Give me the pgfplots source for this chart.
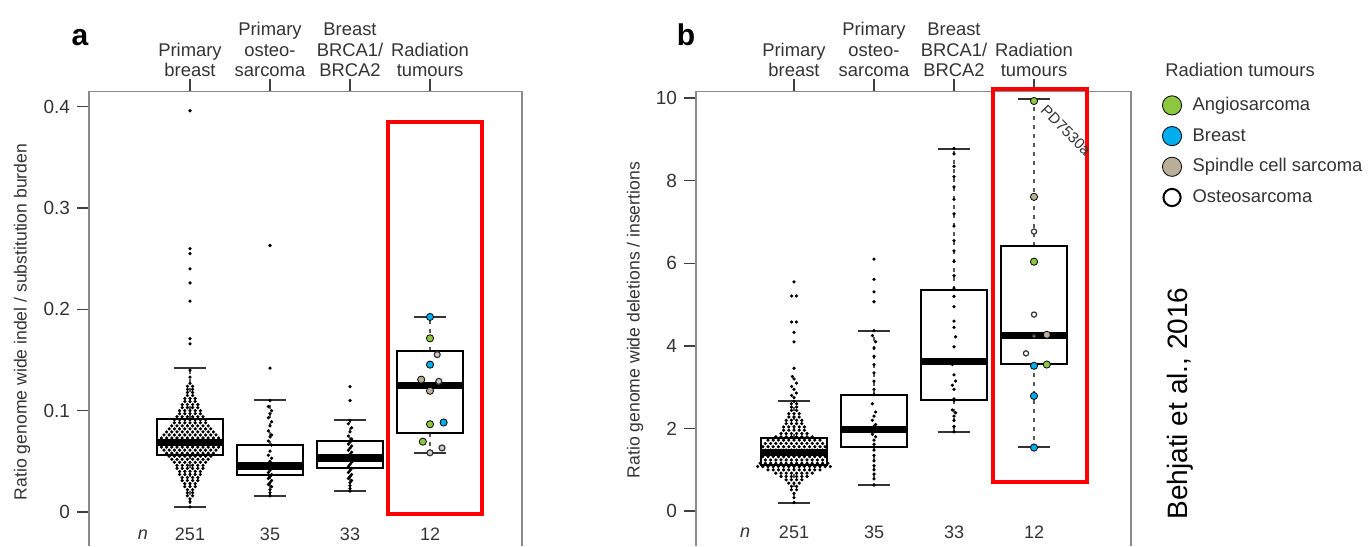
\documentclass[border=0pt]{standalone}
\usepackage{pgfplots}
\pgfplotsset{compat=1.18}
\usepgfplotslibrary{statistics}
\usepackage{fontspec}
\setmainfont{Liberation Sans}
\definecolor{angio}{HTML}{8DC63F}
\definecolor{brst}{HTML}{00AEEF}
\definecolor{spind}{HTML}{B9AE97}
\definecolor{txt}{HTML}{333333}
\definecolor{framec}{HTML}{8A8A8A}
\pgfplotsset{
  mybox/.style={
    boxplot/draw direction=y,
    boxplot/box extend=0.825,
    boxplot/whisker extend=0.41,
    boxplot/draw/box/.code={\draw[line width=1pt,black] (boxplot box cs:\pgfplotsboxplotvalue{lower quartile},0) rectangle (boxplot box cs:\pgfplotsboxplotvalue{upper quartile},1);},
    boxplot/draw/median/.code={\draw[line width=3.6pt,black] (boxplot box cs:\pgfplotsboxplotvalue{median},0) -- (boxplot box cs:\pgfplotsboxplotvalue{median},1);},
    boxplot/draw/upper whisker/.code={\draw[line width=0.6pt,dash pattern=on 2pt off 2.5pt,black!65] (boxplot cs:\pgfplotsboxplotvalue{upper quartile}) -- (boxplot cs:\pgfplotsboxplotvalue{upper whisker}); \draw[line width=1pt,black!80] (boxplot whisker cs:\pgfplotsboxplotvalue{upper whisker},0) -- (boxplot whisker cs:\pgfplotsboxplotvalue{upper whisker},1);},
    boxplot/draw/lower whisker/.code={\draw[line width=0.6pt,dash pattern=on 2pt off 2.5pt,black!65] (boxplot cs:\pgfplotsboxplotvalue{lower quartile}) -- (boxplot cs:\pgfplotsboxplotvalue{lower whisker}); \draw[line width=1pt,black!80] (boxplot whisker cs:\pgfplotsboxplotvalue{lower whisker},0) -- (boxplot whisker cs:\pgfplotsboxplotvalue{lower whisker},1);},
  },
  common/.style={
    scale only axis, clip=false, mybox,
    axis x line*=top, axis y line*=left,
    axis line style={framec, line width=0.75pt},
    tick style={black!75, line width=0.75pt},
    tick align=outside, major tick length=6pt,
    xtick={1,2,3,4},
    xticklabels={{Primary\\breast},{Primary\\osteo-\\sarcoma},{Breast\\BRCA1/\\BRCA2},{Radiation\\tumours}},
    xticklabel style={align=center, font=\fontsize{9.2}{10.45}\selectfont, text=txt, inner sep=1pt},
    yticklabel style={font=\fontsize{9.5}{11}\selectfont, text=txt},
    ylabel style={anchor=center, font=\fontsize{8.8}{10}\selectfont, text=txt},
  },
  dots/.style={only marks, mark=*, mark size=0.6pt, mark options={draw=none, fill=black}, forget plot},
  rad/.style={only marks, mark=*, mark size=1.8pt, mark options={draw=none, fill=#1}, forget plot},
  osteo/.style={only marks, mark=*, mark size=1.5pt, mark options={draw=black!80, fill=#1, line width=0.6pt}, forget plot},
}
\begin{document}
\begin{tikzpicture}
% ---------------- panel a ----------------
\begin{axis}[common, at={(44.5pt,0pt)}, anchor=south west,
  width=216.5pt, height=227.25pt,
  xmin=-0.2625, xmax=5.15, ymin=-0.0336, ymax=0.415,
  ytick={0,0.1,0.2,0.3,0.4}, yticklabels={0,0.1,0.2,0.3,0.4},
  ylabel={Ratio genome wide indel / substitution burden},
  ylabel style={at={(axis description cs:-0.1547,0.493)}},
]
\addplot[dots] coordinates {
(1,0.005)(1,0.010)(1,0.013)
(0.9675,0.016)(1.0325,0.016)
(0.9675,0.019)(1.0325,0.019)
(0.9675,0.022)(1.0325,0.022)
(0.935,0.025)(1,0.025)(1.065,0.025)
(0.935,0.028)(1,0.028)(1.065,0.028)
(0.9025,0.031)(0.9675,0.031)(1.0325,0.031)(1.0975,0.031)
(0.9025,0.034)(0.9675,0.034)(1.0325,0.034)(1.0975,0.034)
(0.87,0.037)(0.935,0.037)(1,0.037)(1.065,0.037)(1.13,0.037)
(0.87,0.040)(0.935,0.040)(1,0.040)(1.065,0.040)(1.13,0.040)
(0.8375,0.043)(0.9025,0.043)(0.9675,0.043)(1.0325,0.043)(1.0975,0.043)(1.1625,0.043)
(0.8375,0.046)(0.9025,0.046)(0.9675,0.046)(1.0325,0.046)(1.0975,0.046)(1.1625,0.046)
(0.805,0.049)(0.87,0.049)(0.935,0.049)(1,0.049)(1.065,0.049)(1.13,0.049)(1.195,0.049)
(0.7725,0.052)(0.8375,0.052)(0.9025,0.052)(0.9675,0.052)(1.0325,0.052)(1.0975,0.052)(1.1625,0.052)(1.2275,0.052)
(0.74,0.055)(0.805,0.055)(0.87,0.055)(0.935,0.055)(1,0.055)(1.065,0.055)(1.13,0.055)(1.195,0.055)(1.26,0.055)
(0.7075,0.058)(0.7725,0.058)(0.8375,0.058)(0.9025,0.058)(0.9675,0.058)(1.0325,0.058)(1.0975,0.058)(1.1625,0.058)(1.2275,0.058)(1.2925,0.058)
(0.675,0.061)(0.74,0.061)(0.805,0.061)(0.87,0.061)(0.935,0.061)(1,0.061)(1.065,0.061)(1.13,0.061)(1.195,0.061)(1.26,0.061)(1.325,0.061)
(0.6425,0.064)(0.7075,0.064)(0.7725,0.064)(0.8375,0.064)(0.9025,0.064)(0.9675,0.064)(1.0325,0.064)(1.0975,0.064)(1.1625,0.064)(1.2275,0.064)(1.2925,0.064)(1.3575,0.064)
(0.61,0.067)(0.675,0.067)(0.74,0.067)(0.805,0.067)(0.87,0.067)(0.935,0.067)(1,0.067)(1.065,0.067)(1.13,0.067)(1.195,0.067)(1.26,0.067)(1.325,0.067)(1.39,0.067)
(0.61,0.070)(0.675,0.070)(0.74,0.070)(0.805,0.070)(0.87,0.070)(0.935,0.070)(1,0.070)(1.065,0.070)(1.13,0.070)(1.195,0.070)(1.26,0.070)(1.325,0.070)(1.39,0.070)
(0.6425,0.073)(0.7075,0.073)(0.7725,0.073)(0.8375,0.073)(0.9025,0.073)(0.9675,0.073)(1.0325,0.073)(1.0975,0.073)(1.1625,0.073)(1.2275,0.073)(1.2925,0.073)(1.3575,0.073)
(0.675,0.076)(0.74,0.076)(0.805,0.076)(0.87,0.076)(0.935,0.076)(1,0.076)(1.065,0.076)(1.13,0.076)(1.195,0.076)(1.26,0.076)(1.325,0.076)
(0.7075,0.079)(0.7725,0.079)(0.8375,0.079)(0.9025,0.079)(0.9675,0.079)(1.0325,0.079)(1.0975,0.079)(1.1625,0.079)(1.2275,0.079)(1.2925,0.079)
(0.74,0.082)(0.805,0.082)(0.87,0.082)(0.935,0.082)(1,0.082)(1.065,0.082)(1.13,0.082)(1.195,0.082)(1.26,0.082)
(0.7725,0.085)(0.8375,0.085)(0.9025,0.085)(0.9675,0.085)(1.0325,0.085)(1.0975,0.085)(1.1625,0.085)(1.2275,0.085)
(0.805,0.088)(0.87,0.088)(0.935,0.088)(1,0.088)(1.065,0.088)(1.13,0.088)(1.195,0.088)
(0.805,0.091)(0.87,0.091)(0.935,0.091)(1,0.091)(1.065,0.091)(1.13,0.091)(1.195,0.091)
(0.8375,0.094)(0.9025,0.094)(0.9675,0.094)(1.0325,0.094)(1.0975,0.094)(1.1625,0.094)
(0.87,0.097)(0.935,0.097)(1,0.097)(1.065,0.097)(1.13,0.097)
(0.87,0.100)(0.935,0.100)(1,0.100)(1.065,0.100)(1.13,0.100)
(0.9025,0.103)(0.9675,0.103)(1.0325,0.103)(1.0975,0.103)
(0.9025,0.106)(0.9675,0.106)(1.0325,0.106)(1.0975,0.106)
(0.935,0.109)(1,0.109)(1.065,0.109)
(0.935,0.112)(1,0.112)(1.065,0.112)
(0.9675,0.115)(1.0325,0.115)
(0.9675,0.118)(1.0325,0.118)
(0.9675,0.121)(1.0325,0.121)
(0.9675,0.124)(1.0325,0.124)
(1,0.127)(1,0.133)(1,0.140)
(1,0.166)(1,0.171)(1,0.208)(1,0.226)(1,0.240)(1,0.255)(1,0.260)(1,0.396)
};
\addplot[dots] coordinates {
(2,0.263)(2,0.142)(2,0.110)(1.98,0.104)(2.02,0.100)(2,0.097)(1.98,0.093)(2.02,0.089)(2,0.085)
(1.98,0.080)(2.02,0.076)(2,0.074)(1.98,0.070)(2.02,0.066)(2,0.060)(1.98,0.056)(2.02,0.053)
(2,0.050)(1.98,0.048)(2.02,0.046)(2,0.045)(1.97,0.044)(2.03,0.043)(2,0.041)(1.98,0.039)
(2.02,0.037)(2,0.035)(1.98,0.033)(2.02,0.031)(2,0.029)(1.98,0.027)(2.02,0.025)(2,0.022)
(2,0.019)(2,0.016)
};
\addplot[dots] coordinates {
(3,0.1237)(3,0.110)(3,0.0904)(2.98,0.087)(3.02,0.083)(3,0.079)(2.98,0.075)(3.02,0.072)
(3,0.069)(2.98,0.067)(3.02,0.065)(3,0.063)(2.98,0.061)(3.02,0.059)(3,0.057)(2.98,0.055)
(3.02,0.054)(3,0.053)(2.98,0.051)(3.02,0.049)(3,0.047)(2.98,0.045)(3.02,0.043)(3,0.041)
(2.98,0.039)(3.02,0.037)(3,0.035)(2.98,0.033)(3.02,0.031)(3,0.029)(3,0.026)(3,0.023)(3,0.0206)
};
\addplot[forget plot, boxplot prepared={draw position=1, lower whisker=0.0045, lower quartile=0.0567, median=0.0688, upper quartile=0.0918, upper whisker=0.1416}] coordinates {};
\addplot[forget plot, boxplot prepared={draw position=2, lower whisker=0.0155, lower quartile=0.0361, median=0.0454, upper quartile=0.0663, upper whisker=0.1106}] coordinates {};
\addplot[forget plot, boxplot prepared={draw position=3, lower whisker=0.0206, lower quartile=0.0430, median=0.0533, upper quartile=0.0698, upper whisker=0.0904}] coordinates {};
\addplot[forget plot, boxplot prepared={draw position=4, lower whisker=0.0584, lower quartile=0.0780, median=0.1247, upper quartile=0.1588, upper whisker=0.1925}] coordinates {};
\addplot[rad=angio] coordinates {(4,0.1714)(4,0.0866)(3.91,0.0694)};
\addplot[rad=brst] coordinates {(4,0.1925)(4,0.1454)(4.17,0.0883)};
\addplot[rad=spind] coordinates {(3.89,0.1306)(4,0.1196)};
\addplot[osteo=black!20] coordinates {(4.09,0.1553)(4.11,0.1289)(4.15,0.0632)(4,0.0584)};
\draw[red, line width=2pt] (axis cs:3.475,-0.0023) rectangle (axis cs:4.65,0.385);
\draw[framec, line width=0.75pt] (rel axis cs:1,0) -- (rel axis cs:1,1);
\node[font=\fontsize{9}{10}\selectfont\itshape, text=txt] at (axis cs:0.4125,-0.0222) {n};
\node[font=\fontsize{9}{10}\selectfont, text=txt] at (axis cs:1,-0.0222) {251};
\node[font=\fontsize{9}{10}\selectfont, text=txt] at (axis cs:2,-0.0222) {35};
\node[font=\fontsize{9}{10}\selectfont, text=txt] at (axis cs:3,-0.0222) {33};
\node[font=\fontsize{9}{10}\selectfont, text=txt] at (axis cs:4,-0.0222) {12};
\node[anchor=base, font=\fontsize{15}{15}\selectfont\bfseries] at (axis description cs:-0.0208,1.1023) {a};
\end{axis}
% ---------------- panel b ----------------
\begin{axis}[common, at={(348pt,0pt)}, anchor=south west,
  width=217.5pt, height=227.25pt,
  xmin=-0.225, xmax=5.2125, ymin=-0.843, ymax=10.16,
  ytick={0,2,4,6,8,10}, yticklabels={0,2,4,6,8,10},
  ylabel={Ratio genome wide deletions / insertions},
  ylabel style={at={(axis description cs:-0.140,0.497)}},
  legend style={at={(axis description cs:1.0713,0.9945)}, anchor=north west, draw=none, fill=none,
    font=\fontsize{9.2}{11}\selectfont, text=txt, row sep=4.35pt, inner sep=0pt,
    nodes={inner sep=1pt, text height=7pt, text depth=2pt},
    /tikz/every odd column/.append style={column sep=4.5pt}},
  legend cell align=left,
]
\addplot[dots] coordinates {
(1,0.21)(1,0.33)(1,0.43)
(0.9675,0.52)(1.0325,0.52)
(0.9675,0.60)(1.0325,0.60)
(0.935,0.68)(1,0.68)(1.065,0.68)
(0.9025,0.76)(0.9675,0.76)(1.0325,0.76)(1.0975,0.76)
(0.8375,0.84)(0.9025,0.84)(0.9675,0.84)(1.0325,0.84)(1.0975,0.84)(1.1625,0.84)
(0.7725,0.92)(0.8375,0.92)(0.9025,0.92)(0.9675,0.92)(1.0325,0.92)(1.0975,0.92)(1.1625,0.92)(1.2275,0.92)
(0.675,1.00)(0.74,1.00)(0.805,1.00)(0.87,1.00)(0.935,1.00)(1,1.00)(1.065,1.00)(1.13,1.00)(1.195,1.00)(1.26,1.00)(1.325,1.00)
(0.545,1.08)(0.61,1.08)(0.675,1.08)(0.74,1.08)(0.805,1.08)(0.87,1.08)(0.935,1.08)(1,1.08)(1.065,1.08)(1.13,1.08)(1.195,1.08)(1.26,1.08)(1.325,1.08)(1.39,1.08)(1.455,1.08)
(0.5775,1.16)(0.6425,1.16)(0.7075,1.16)(0.7725,1.16)(0.8375,1.16)(0.9025,1.16)(0.9675,1.16)(1.0325,1.16)(1.0975,1.16)(1.1625,1.16)(1.2275,1.16)(1.2925,1.16)(1.3575,1.16)(1.4225,1.16)
(0.6425,1.24)(0.7075,1.24)(0.7725,1.24)(0.8375,1.24)(0.9025,1.24)(0.9675,1.24)(1.0325,1.24)(1.0975,1.24)(1.1625,1.24)(1.2275,1.24)(1.2925,1.24)(1.3575,1.24)
(0.61,1.32)(0.675,1.32)(0.74,1.32)(0.805,1.32)(0.87,1.32)(0.935,1.32)(1,1.32)(1.065,1.32)(1.13,1.32)(1.195,1.32)(1.26,1.32)(1.325,1.32)(1.39,1.32)
(0.61,1.40)(0.675,1.40)(0.74,1.40)(0.805,1.40)(0.87,1.40)(0.935,1.40)(1,1.40)(1.065,1.40)(1.13,1.40)(1.195,1.40)(1.26,1.40)(1.325,1.40)(1.39,1.40)
(0.6425,1.48)(0.7075,1.48)(0.7725,1.48)(0.8375,1.48)(0.9025,1.48)(0.9675,1.48)(1.0325,1.48)(1.0975,1.48)(1.1625,1.48)(1.2275,1.48)(1.2925,1.48)(1.3575,1.48)
(0.61,1.56)(0.675,1.56)(0.74,1.56)(0.805,1.56)(0.87,1.56)(0.935,1.56)(1,1.56)(1.065,1.56)(1.13,1.56)(1.195,1.56)(1.26,1.56)(1.325,1.56)(1.39,1.56)
(0.6425,1.64)(0.7075,1.64)(0.7725,1.64)(0.8375,1.64)(0.9025,1.64)(0.9675,1.64)(1.0325,1.64)(1.0975,1.64)(1.1625,1.64)(1.2275,1.64)(1.2925,1.64)(1.3575,1.64)
(0.675,1.72)(0.74,1.72)(0.805,1.72)(0.87,1.72)(0.935,1.72)(1,1.72)(1.065,1.72)(1.13,1.72)(1.195,1.72)(1.26,1.72)(1.325,1.72)
(0.7725,1.80)(0.8375,1.80)(0.9025,1.80)(0.9675,1.80)(1.0325,1.80)(1.0975,1.80)(1.1625,1.80)(1.2275,1.80)
(0.8375,1.88)(0.9025,1.88)(0.9675,1.88)(1.0325,1.88)(1.0975,1.88)(1.1625,1.88)
(0.87,1.96)(0.935,1.96)(1,1.96)(1.065,1.96)(1.13,1.96)
(0.87,2.04)(0.935,2.04)(1,2.04)(1.065,2.04)(1.13,2.04)
(0.9025,2.12)(0.9675,2.12)(1.0325,2.12)(1.0975,2.12)
(0.9025,2.20)(0.9675,2.20)(1.0325,2.20)(1.0975,2.20)
(0.935,2.28)(1,2.28)(1.065,2.28)
(0.935,2.36)(1,2.36)(1.065,2.36)
(0.9675,2.44)(1.0325,2.44)
(0.9675,2.52)(1.0325,2.52)
(0.9675,2.60)(1.0325,2.60)
(1,2.66)
(1,2.75)(0.97,2.80)(1.03,2.86)(1,2.95)(0.97,3.02)(1.03,3.10)(1,3.20)(0.98,3.26)(1,3.46)
(1,4.10)(1,4.33)(0.97,4.58)(1.03,4.58)(0.97,5.21)(1.03,5.21)(1,5.55)
};
\addplot[dots] coordinates {
(2,6.10)(2,5.61)(2,5.31)(2,5.07)(2,4.37)(1.98,4.25)(2.02,4.10)(2,3.95)(2,3.75)(2,3.55)
(2,3.35)(2,3.15)(2,2.95)(2,2.82)(1.98,2.60)(2.02,2.40)(2,2.30)(1.98,2.20)(2.02,2.10)
(2,2.05)(1.98,2.00)(2.02,1.96)(2,1.92)(1.98,1.86)(2.02,1.80)(2,1.72)(2,1.62)(2,1.48)
(2,1.35)(2,1.22)(2,1.10)(2,1.00)(2,0.90)(2,0.78)(2,0.632)
};
\addplot[dots] coordinates {
(3,8.78)(3,8.65)(3,8.35)(3,8.10)(3,7.85)(3,7.55)(3,7.20)(3,6.90)(3,6.55)(3,6.30)(3,6.05)
(3,5.70)(3,5.40)(3,5.20)(3,4.95)(3,4.60)(3,4.45)(3.02,4.22)(3,3.98)(3,3.62)(2.98,3.55)
(3,3.30)(3.02,3.15)(2.98,3.05)(3,2.95)(3,2.72)(3,2.68)(2.98,2.45)(3.02,2.38)(3,2.30)
(3,2.20)(3,2.05)(3,1.92)
};
\addplot[forget plot, boxplot prepared={draw position=1, lower whisker=0.21, lower quartile=1.121, median=1.417, upper quartile=1.771, upper whisker=2.664}] coordinates {};
\addplot[forget plot, boxplot prepared={draw position=2, lower whisker=0.632, lower quartile=1.558, median=1.98, upper quartile=2.823, upper whisker=4.37}] coordinates {};
\addplot[forget plot, boxplot prepared={draw position=3, lower whisker=1.92, lower quartile=2.68, median=3.62, upper quartile=5.35, upper whisker=8.78}] coordinates {};
\addplot[forget plot, boxplot prepared={draw position=4, lower whisker=1.56, lower quartile=3.57, median=4.26, upper quartile=6.41, upper whisker=9.97}] coordinates {};
\addplot[rad=angio] coordinates {(4,9.93)(4,6.04)(4.16,3.55)};
\addplot[rad=brst] coordinates {(4,3.52)(4,2.79)(4,1.54)};
\addplot[rad=spind] coordinates {(4,7.61)(4.16,4.27)};
\addplot[osteo=white, mark size=1.3pt] coordinates {(4,6.77)(4,4.76)(3.9,3.82)};
\addplot[osteo=white, mark size=0.8pt] coordinates {(4,4.24)};
\addlegendimage{only marks, mark=*, mark size=4.8pt, mark options={draw=none, fill=angio}}
\addlegendentry{Angiosarcoma}
\addlegendimage{only marks, mark=*, mark size=4.8pt, mark options={draw=none, fill=brst}}
\addlegendentry{Breast}
\addlegendimage{only marks, mark=*, mark size=4.8pt, mark options={draw=none, fill=spind}}
\addlegendentry{Spindle cell sarcoma}
\addlegendimage{only marks, mark=*, mark size=4.3pt, mark options={draw=black, line width=1pt, fill=white}}
\addlegendentry{Osteosarcoma}
\draw[red, line width=2pt] (axis cs:3.491,0.70) rectangle (axis cs:4.666,10.23);
\draw[framec, line width=0.75pt] (rel axis cs:1,0) -- (rel axis cs:1,1);
\node[rotate=-45, font=\fontsize{7.6}{9}\selectfont, text=black!80] at (axis cs:4.40,9.22) {PD7530a};
\node[font=\fontsize{9}{10}\selectfont\itshape, text=txt] at (axis cs:0.3875,-0.52) {n};
\node[font=\fontsize{9}{10}\selectfont, text=txt] at (axis cs:1,-0.52) {251};
\node[font=\fontsize{9}{10}\selectfont, text=txt] at (axis cs:2,-0.52) {35};
\node[font=\fontsize{9}{10}\selectfont, text=txt] at (axis cs:3,-0.52) {33};
\node[font=\fontsize{9}{10}\selectfont, text=txt] at (axis cs:4,-0.52) {12};
\node[anchor=base, font=\fontsize{15}{15}\selectfont\bfseries] at (axis description cs:-0.023,1.1023) {b};
\node[anchor=base west, inner sep=0pt, font=\fontsize{9.2}{11}\selectfont, text=txt] at (axis description cs:1.0782,1.0326) {Radiation tumours};
\node[rotate=90, font=\fontsize{14}{16}\selectfont, text=black] at (axis description cs:1.1126,0.3135) {Behjati et al., 2016};
\end{axis}
\pgfresetboundingbox
\useasboundingbox (0pt,0pt) rectangle (684pt,273pt);
\end{tikzpicture}
\end{document}
